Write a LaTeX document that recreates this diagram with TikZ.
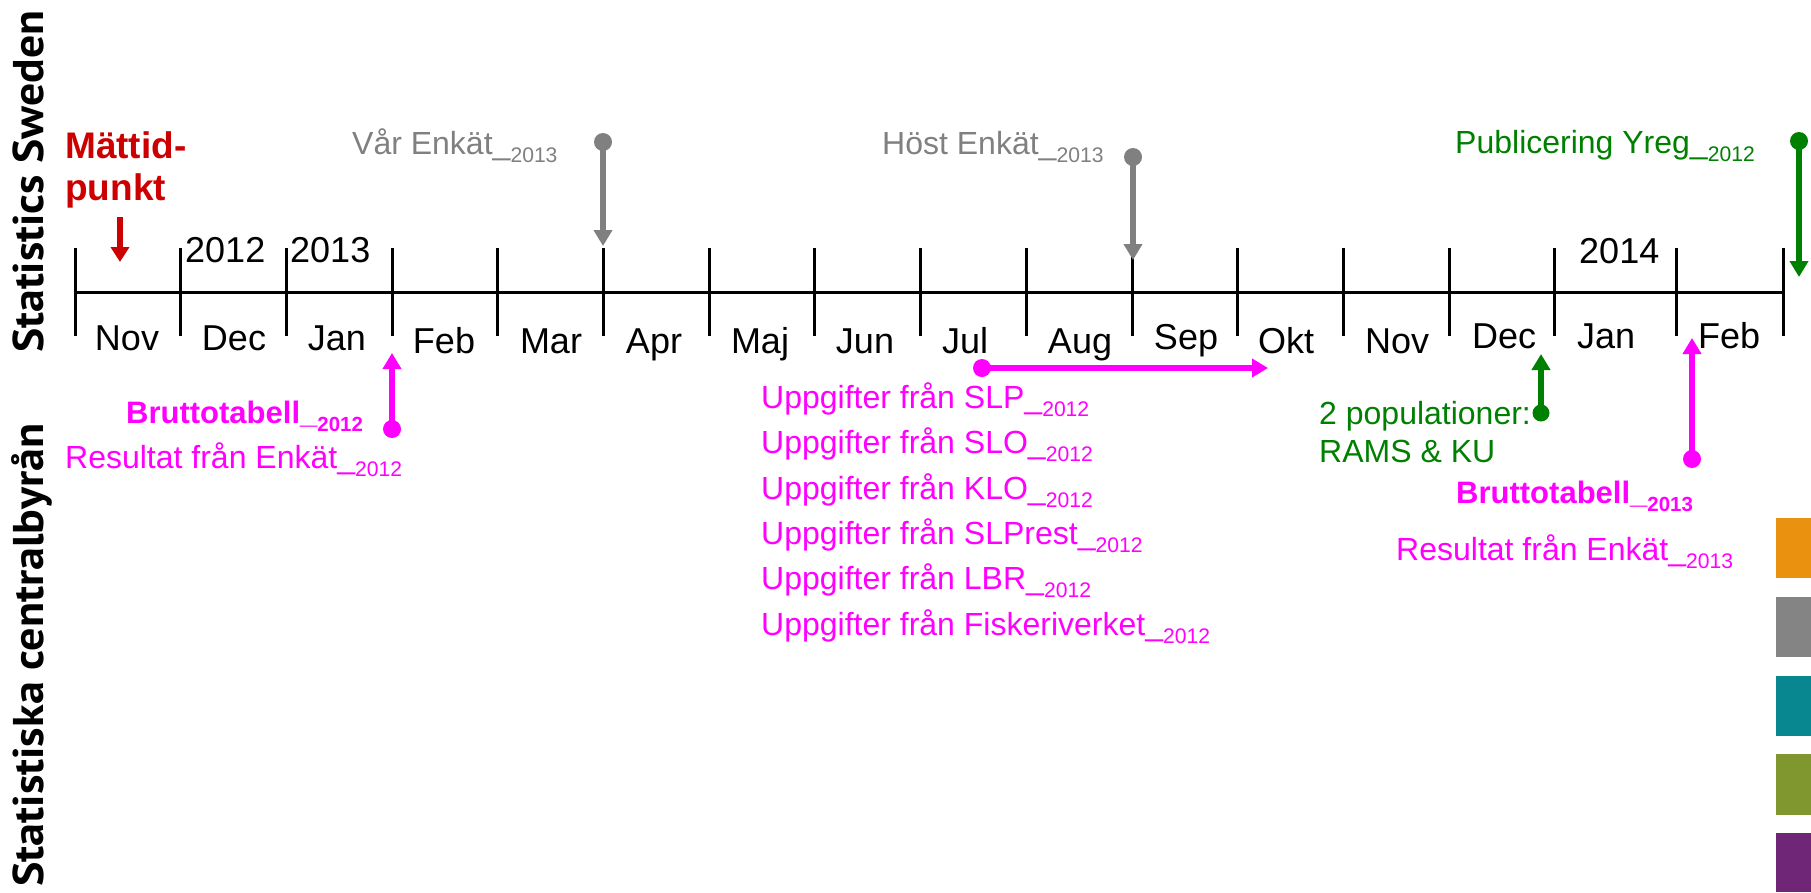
\documentclass[tikz,border=0pt]{standalone}
\usepackage{fontspec}
\usepackage{graphicx}
\setmainfont{Liberation Sans}
\newfontfamily\scbfont{PT Sans}
\usetikzlibrary{arrows.meta}
\definecolor{scbred}{HTML}{CC0000}
\definecolor{scbgray}{HTML}{808080}
\definecolor{scbgreen}{HTML}{008000}
\definecolor{scbpink}{HTML}{FF00FF}
\definecolor{sqorange}{HTML}{EA9110}
\definecolor{sqgray}{HTML}{848484}
\definecolor{sqteal}{HTML}{088791}
\definecolor{sqolive}{HTML}{80962F}
\definecolor{sqpurple}{HTML}{6F2677}
\newcommand\fs[1]{\fontsize{#1}{#1}\selectfont}
\newcommand\subsc[1]{\_\raisebox{-0.26em}{\scalebox{0.66}{#1}}}
\begin{document}
\begin{tikzpicture}[x=1pt,y=-1pt,
  txt/.style={inner sep=0pt, anchor=base west},
  month/.style={inner sep=0pt, anchor=base, font=\fs{36}},
  year/.style={inner sep=0pt, anchor=base west, font=\fs{36}},
  ev/.style={line width=5.5pt, -{Triangle[width=18pt,length=16pt]}},
  dotr/.style={circle, inner sep=0pt, minimum size=18pt}]
\useasboundingbox (0,0) rectangle (1811,892);

% vertical labels
\node[inner sep=0pt, anchor=base west, rotate=90] (sweden) at (43,353)
  {\resizebox{342pt}{\height}{\scbfont\bfseries\fs{43}Statistics Sweden}};
\node[inner sep=0pt, anchor=base west, rotate=90] (scb) at (43,887)
  {\resizebox{463pt}{\height}{\scbfont\bfseries\fs{43}Statistiska centralbyrån}};

% timeline
\draw[line width=3pt] (75,292) -- (1783,292);
\foreach \x in {75,180.7,286.4,392.1,497.8,603.5,709.2,814.9,920.6,1026.3,1132,1237.7,1343.4,1449.1,1554.8,1676,1783}
  \draw[line width=3pt] (\x,248) -- (\x,336);

% months
\node[month] (m1) at (127,350) {Nov};
\node[month] (m2) at (234,350) {Dec};
\node[month] (m3) at (337,350) {Jan};
\node[month] (m4) at (444,353) {Feb};
\node[month] (m5) at (551,353) {Mar};
\node[month] (m6) at (654,353) {Apr};
\node[month] (m7) at (760,353) {Maj};
\node[month] (m8) at (865,353) {Jun};
\node[month] (m9) at (965,353) {Jul};
\node[month] (m10) at (1080,353) {Aug};
\node[month] (m11) at (1186,349) {Sep};
\node[month] (m12) at (1286,353) {Okt};
\node[month] (m13) at (1397,353) {Nov};
\node[month] (m14) at (1504,348) {Dec};
\node[month] (m15) at (1606,348) {Jan};
\node[month] (m16) at (1729,348) {Feb};

% years
\node[year] (y12) at (185,262) {2012};
\node[year] (y13) at (290,262) {2013};
\node[year] (y14) at (1579,263) {2014};

% Mättidpunkt
\node[txt, text=scbred, font=\bfseries\fs{37}] (mat1) at (65,158) {Mättid-};
\node[txt, text=scbred, font=\bfseries\fs{37}] (mat2) at (65,200) {punkt};
\coordinate (matS) at (120,217);
\coordinate (matT) at (120,262);
\draw[ev, scbred, line width=6pt, -{Triangle[width=18pt,length=15pt]}] (matS) -- (matT);

% Vår Enkät
\node[txt, text=scbgray, font=\fs{32}] (var) at (352,154) {Vår Enkät\subsc{2013}};
\node[dotr, fill=scbgray] (varD) at (603,142) {};
\coordinate (varT) at (603,246);
\draw[ev, scbgray] (varD.center) -- (varT);

% Höst Enkät
\node[txt, text=scbgray, font=\fs{32}] (host) at (882,154) {Höst Enkät\subsc{2013}};
\node[dotr, fill=scbgray] (hostD) at (1133,157) {};
\coordinate (hostT) at (1133,260);
\draw[ev, scbgray] (hostD.center) -- (hostT);

% Publicering
\node[txt, text=scbgreen, font=\fs{32}] (publ) at (1455,153) {Publicering Yreg\subsc{2012}};
\node[dotr, fill=scbgreen] (publD) at (1799,141) {};
\coordinate (publT) at (1799,277);
\draw[ev, scbgreen] (publD.center) -- (publT);

% Bruttotabell 2012
\node[txt, text=scbpink, font=\bfseries\fs{31}] (br12) at (126,423) {Bruttotabell\subsc{2012}};
\node[txt, text=scbpink, font=\fs{32}] (res12) at (65,468) {Resultat från Enkät\subsc{2012}};
\node[dotr, fill=scbpink] (br12D) at (392,429) {};
\coordinate (br12T) at (392,353);
\draw[ev, scbpink] (br12D.center) -- (br12T);

% Uppgifter
\node[dotr, fill=scbpink] (uppD) at (982,368) {};
\coordinate (uppT) at (1268,368);
\draw[ev, scbpink] (uppD.center) -- (uppT);
\node[txt, text=scbpink, font=\fs{32}] (u1) at (761,408) {Uppgifter från SLP\subsc{2012}};
\node[txt, text=scbpink, font=\fs{32}] (u2) at (761,453) {Uppgifter från SLO\subsc{2012}};
\node[txt, text=scbpink, font=\fs{32}] (u3) at (761,499) {Uppgifter från KLO\subsc{2012}};
\node[txt, text=scbpink, font=\fs{32}] (u4) at (761,544) {Uppgifter från SLPrest\subsc{2012}};
\node[txt, text=scbpink, font=\fs{32}] (u5) at (761,589) {Uppgifter från LBR\subsc{2012}};
\node[txt, text=scbpink, font=\fs{32}] (u6) at (761,635) {Uppgifter från Fiskeriverket\subsc{2012}};

% 2 populationer
\node[txt, text=scbgreen, font=\fs{32}] (pop1) at (1319,424) {2 populationer:};
\node[txt, text=scbgreen, font=\fs{32}] (pop2) at (1319,462) {RAMS \& KU};
\node[dotr, fill=scbgreen, minimum size=17pt] (popD) at (1541,413) {};
\coordinate (popT) at (1541,354);
\draw[ev, scbgreen] (popD.center) -- (popT);

% Bruttotabell 2013
\node[txt, text=scbpink, font=\bfseries\fs{31}] (br13) at (1456,503) {Bruttotabell\subsc{2013}};
\node[txt, text=scbpink, font=\fs{32}] (res13) at (1396,560) {Resultat från Enkät\subsc{2013}};
\node[dotr, fill=scbpink] (br13D) at (1692,459) {};
\coordinate (br13T) at (1692,338);
\draw[ev, scbpink] (br13D.center) -- (br13T);

% colour squares
\fill[sqorange] (1776,518) rectangle (1811,578);
\fill[sqgray] (1776,597) rectangle (1811,657);
\fill[sqteal] (1776,676) rectangle (1811,736);
\fill[sqolive] (1776,754) rectangle (1811,815);
\fill[sqpurple] (1776,833) rectangle (1811,892);
\end{tikzpicture}
\end{document}
